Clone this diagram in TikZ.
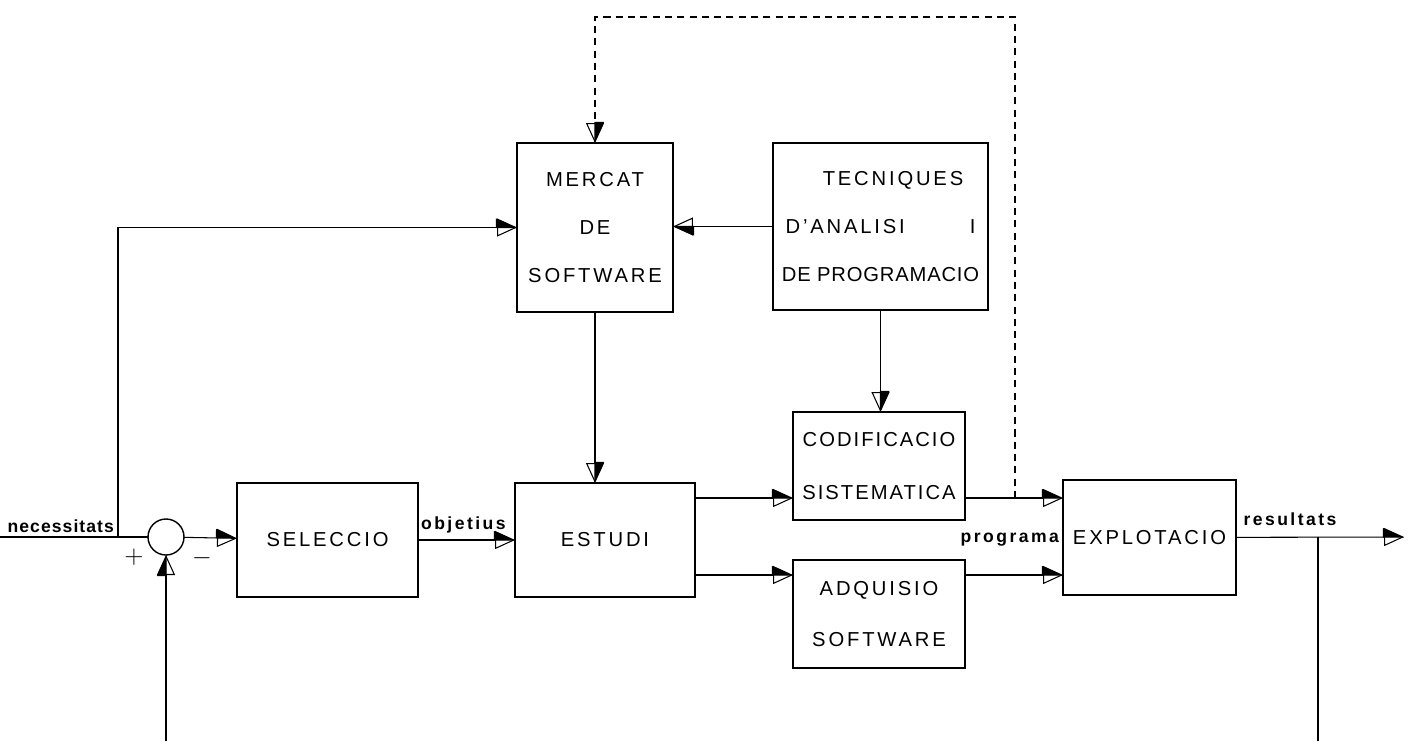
\documentclass[tikz,border=0pt]{standalone}
\usepackage{fontspec}
\setmainfont{Liberation Sans}
\usetikzlibrary{arrows.meta,positioning,calc}

\tikzset{HalfTri/.tip={Triangle[left,length=4mm,width=3.6mm,sep=-4mm] Triangle[open,length=4mm,width=3.6mm]}}

\begin{document}
\begin{tikzpicture}[x=0.02cm, y=-0.02cm,
    block/.style={rectangle, draw, line width=1.3pt, inner sep=0pt, outer sep=0pt, align=center, font=\fontsize{11.5}{13}\selectfont\addfontfeature{LetterSpace=14}},
    sum/.style={circle, draw, line width=0.8pt, minimum size=0.72cm, inner sep=0pt, outer sep=0pt},
    sign/.style={font=\Large, inner sep=0pt},
    lbl/.style={font=\fontsize{10}{12}\selectfont\bfseries\addfontfeature{LetterSpace=14}, inner sep=1pt},
    line/.style={line width=0.6pt},
    flow/.style={line width=0.6pt, -{HalfTri}},
    dashflow/.style={line width=0.6pt, dash pattern=on 4pt off 3pt, -{HalfTri}}
]
\useasboundingbox (0,0) rectangle (1408,741);

% Blocks
\node[block, minimum width=3.12cm, minimum height=3.38cm] (mercat) at (595,227.5) {MERCAT\\[0.5cm]DE\\[0.5cm]SOFTWARE};
\node[block, minimum width=4.3cm, minimum height=3.34cm] (tecn) at (880.5,226.5) {\hspace{0.5cm}TECNIQUES\\[0.5cm]D'ANALISI\hspace{1.3cm}I\\[0.5cm]{\addfontfeature{LetterSpace=4}DE PROGRAMACIO}};
\node[block, minimum width=3.62cm, minimum height=2.28cm] (selec) at (327.5,540) {SELECCIO};
\node[block, minimum width=3.6cm, minimum height=2.28cm] (estudi) at (605,540) {ESTUDI};
\node[block, minimum width=3.44cm, minimum height=2.16cm, font=\fontsize{11.5}{13}\selectfont\addfontfeature{LetterSpace=10}] (codif) at (879,466) {CODIFICACIO\\[0.62cm]SISTEMATICA};
\node[block, minimum width=3.44cm, minimum height=2.16cm] (adqui) at (879,614) {ADQUISIO\\[0.55cm]SOFTWARE};
\node[block, minimum width=3.46cm, minimum height=2.3cm] (explot) at (1149.5,537.5) {EXPLOTACIO};

% Summing point
\node[sum] (sum) at (166,537) {};
\node[sign] (plus) at (134,557) {$+$};
\node[sign] (minus) at (202,558) {$-$};

% Free ends
\coordinate (in) at (0,537);
\coordinate (split) at (118,537);
\coordinate (fbin) at (166,741);
\coordinate (tap) at (1318,537);
\coordinate (fbout) at (1318,741);
\coordinate (out) at (1404,537);
\coordinate (dtap) at (1015,498);

% Connections
\draw[line] (in) -- (sum);
\draw[flow] (split) |- (mercat.west);
\draw[flow] (fbin) -- (sum);
\draw[flow] (sum) -- (selec);
\draw[flow] (selec) -- (estudi);
\draw[flow] (mercat.south) -- (mercat.south |- estudi.north);
\draw[flow] (tecn.west) -- (mercat.east |- tecn.west);
\draw[flow] (tecn.south) -- (tecn.south |- codif.north);
\draw[flow] (estudi.east |- 0,498) -- (codif.west |- 0,498);
\draw[flow] (estudi.east |- 0,575) -- (adqui.west |- 0,575);
\draw[flow] (codif.east |- 0,498) -- (explot.west |- 0,498);
\draw[flow] (adqui.east |- 0,575) -- (explot.west |- 0,575);
\draw[flow] (explot) -- (out);
\draw[line] (tap) -- (fbout);
\draw[dashflow] (dtap) |- (mercat.north |- 0,17) -- (mercat.north);

% Labels
\node[lbl, anchor=south east, font=\fontsize{10}{12}\selectfont\bfseries\addfontfeature{LetterSpace=6}] (necess) at (116,535) {necessitats};
\node[lbl, anchor=south west] (objet) at (419,535) {objetius};
\node[lbl, anchor=east] (progr) at (1061,540) {programa};
\node[lbl, anchor=south] (result) at (1290,528) {resultats};

\end{tikzpicture}
\end{document}
